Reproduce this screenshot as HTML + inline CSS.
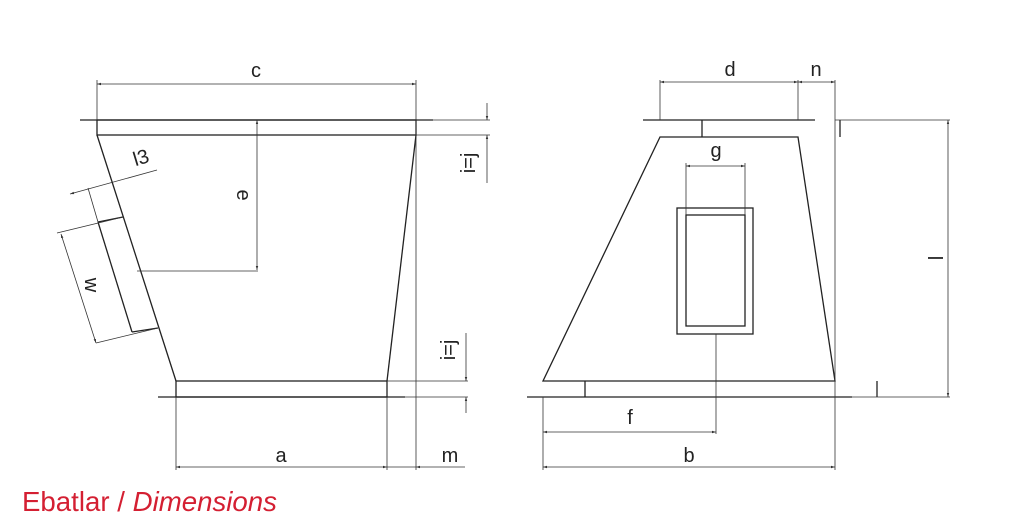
<!DOCTYPE html>
<html><head><meta charset="utf-8"><style>
html,body{margin:0;padding:0;background:#fff;}
svg{display:block;}
text{font-family:"Liberation Sans",sans-serif;fill:#222;}
</style></head><body>
<svg width="1010" height="529" viewBox="0 0 1010 529" xmlns="http://www.w3.org/2000/svg">
<defs>
<marker id="ar" viewBox="0 0 10 10" refX="10" refY="5" markerWidth="7" markerHeight="5" orient="auto-start-reverse"><path d="M0,2 L10,5 L0,8 z" fill="#333"/></marker>
</defs>
<g stroke="#222" fill="none" stroke-width="1.3">
<rect x="97" y="120" width="319" height="15"/>
<line x1="80" y1="120" x2="433" y2="120"/>
<line x1="97" y1="135" x2="176" y2="381"/>
<line x1="416" y1="135" x2="387" y2="381"/>
<rect x="176" y="381" width="211" height="16"/>
<line x1="158" y1="397" x2="405" y2="397"/>
<line x1="98" y1="222" x2="132" y2="332"/>
<line x1="98" y1="222" x2="123" y2="217"/>
<line x1="132" y1="332" x2="158" y2="328"/>
</g>
<g stroke="#333" fill="none" stroke-width="0.8">
<line x1="97" y1="80" x2="97" y2="120"/>
<line x1="416" y1="80" x2="416" y2="470"/>
<line x1="97" y1="84" x2="416" y2="84" marker-start="url(#ar)" marker-end="url(#ar)"/>
<line x1="176" y1="397" x2="176" y2="470"/>
<line x1="387" y1="397" x2="387" y2="470"/>
<line x1="176" y1="467" x2="387" y2="467" marker-start="url(#ar)" marker-end="url(#ar)"/>
<line x1="387" y1="467" x2="416" y2="467"/>
<line x1="416" y1="467" x2="465" y2="467" marker-start="url(#ar)"/>
<line x1="416" y1="135" x2="490" y2="135"/>
<line x1="433" y1="120" x2="490" y2="120"/>
<line x1="487" y1="103" x2="487" y2="120" marker-end="url(#ar)"/>
<line x1="487" y1="183" x2="487" y2="135" marker-end="url(#ar)"/>
<line x1="387" y1="381" x2="468" y2="381"/>
<line x1="405" y1="397" x2="468" y2="397"/>
<line x1="466" y1="333" x2="466" y2="381" marker-end="url(#ar)"/>
<line x1="466" y1="413" x2="466" y2="397" marker-end="url(#ar)"/>
<line x1="257" y1="120" x2="257" y2="270" marker-start="url(#ar)" marker-end="url(#ar)"/>
<line x1="137" y1="271" x2="258" y2="271"/>
<line x1="70" y1="194" x2="157" y2="170" marker-start="url(#ar)"/>
<line x1="88" y1="188" x2="98" y2="222"/>
<line x1="57" y1="233" x2="123" y2="217"/>
<line x1="96" y1="343" x2="158" y2="328"/>
<line x1="61" y1="234" x2="96" y2="343" marker-start="url(#ar)" marker-end="url(#ar)"/>
</g>
<g stroke="#222" fill="none" stroke-width="1.3">
<line x1="643" y1="120" x2="815" y2="120"/>
<polygon points="660,137 798,137 835,381 543,381"/>
<line x1="702" y1="120" x2="702" y2="137"/>
<line x1="527" y1="397" x2="852" y2="397"/>
<line x1="585" y1="381" x2="585" y2="397"/>
<rect x="677" y="208" width="76" height="126"/>
<rect x="686" y="215" width="59" height="111"/>
<line x1="840" y1="120" x2="840" y2="137"/>
<line x1="877" y1="381" x2="877" y2="397"/>
</g>
<g stroke="#333" fill="none" stroke-width="0.8">
<line x1="660" y1="80" x2="660" y2="120"/>
<line x1="798" y1="80" x2="798" y2="120"/>
<line x1="835" y1="80" x2="835" y2="470"/>
<line x1="660" y1="82" x2="798" y2="82" marker-start="url(#ar)" marker-end="url(#ar)"/>
<line x1="798" y1="82" x2="835" y2="82" marker-start="url(#ar)" marker-end="url(#ar)"/>
<line x1="835" y1="120" x2="950" y2="120"/>
<line x1="852" y1="397" x2="950" y2="397"/>
<line x1="948" y1="120" x2="948" y2="397" marker-start="url(#ar)" marker-end="url(#ar)"/>
<line x1="686" y1="163" x2="686" y2="215"/>
<line x1="745" y1="163" x2="745" y2="215"/>
<line x1="686" y1="166" x2="745" y2="166" marker-start="url(#ar)" marker-end="url(#ar)"/>
<line x1="716" y1="334" x2="716" y2="434"/>
<line x1="543" y1="397" x2="543" y2="470"/>
<line x1="543" y1="432" x2="716" y2="432" marker-start="url(#ar)" marker-end="url(#ar)"/>
<line x1="543" y1="467" x2="835" y2="467" marker-start="url(#ar)" marker-end="url(#ar)"/>
</g>
<g font-size="20">
<text x="256" y="77" text-anchor="middle">c</text>
<text x="281" y="462" text-anchor="middle">a</text>
<text x="450" y="462" text-anchor="middle">m</text>
<text x="0" y="0" text-anchor="middle" transform="translate(237,195) rotate(90)">e</text>
<text x="0" y="0" text-anchor="middle" transform="translate(85,285) rotate(90)">w</text>
<text x="0" y="0" text-anchor="middle" transform="translate(143,164) rotate(-17)">l3</text>
<text x="0" y="0" text-anchor="middle" transform="translate(475,163) rotate(-90)">i=j</text>
<text x="0" y="0" text-anchor="middle" transform="translate(455,350) rotate(-90)">i=j</text>
<text x="730" y="76" text-anchor="middle">d</text>
<text x="816" y="76" text-anchor="middle">n</text>
<text x="716" y="157" text-anchor="middle">g</text>
<text x="630" y="424" text-anchor="middle">f</text>
<text x="689" y="462" text-anchor="middle">b</text>
<text x="0" y="0" text-anchor="middle" transform="translate(928,258) rotate(90)">l</text>
</g>
<text x="22" y="511" font-size="28" textLength="255" lengthAdjust="spacingAndGlyphs" style="fill:#d41f32">Ebatlar / <tspan font-style="italic">Dimensions</tspan></text>
</svg>
</body></html>
